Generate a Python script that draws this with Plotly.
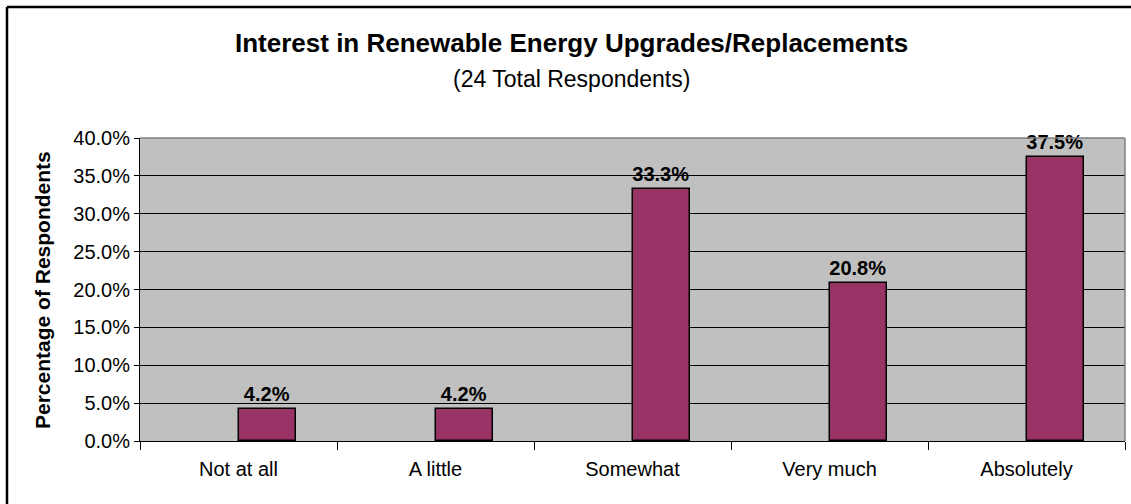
import plotly.graph_objects as go

categories = ["Not at all", "A little", "Somewhat", "Very much", "Absolutely"]
percent_values = [4.2, 4.2, 33.3, 20.8, 37.5]
y_tick_values = [0, 5, 10, 15, 20, 25, 30, 35, 40]
y_tick_labels = [f"{v:.1f}%" for v in y_tick_values]

FONT = "Liberation Sans, Arial, sans-serif"

fig = go.Figure()
fig.add_trace(go.Bar(
    x=categories,
    y=percent_values,
    width=0.29,
    offset=0.0,
    marker=dict(color="#993366", line=dict(color="#000000", width=1.5)),
    text=[f"{v:.1f}%" for v in percent_values],
    textposition="outside",
    textfont=dict(family=FONT, size=20, color="#000000", weight="bold"),
    cliponaxis=False,
    showlegend=False,
))

fig.update_layout(
    width=1131,
    height=504,
    margin=dict(l=140, r=6, t=138, b=63),
    paper_bgcolor="#FFFFFF",
    plot_bgcolor="#C0C0C0",
    font=dict(family=FONT, size=20, color="#000000"),
    bargap=0,
    xaxis=dict(
        type="category",
        tickson="boundaries",
        ticks="outside",
        ticklen=8,
        tickcolor="#000000",
        showline=True,
        linecolor="#000000",
        linewidth=1,
        showgrid=False,
        ticklabelstandoff=10,
        tickfont=dict(family=FONT, size=20),
        range=[-0.5, 4.5],
    ),
    yaxis=dict(
        range=[0, 40],
        tickvals=y_tick_values,
        ticktext=y_tick_labels,
        ticks="outside",
        ticklen=5,
        tickcolor="#000000",
        showline=True,
        linecolor="#000000",
        linewidth=1,
        showgrid=True,
        gridcolor="#000000",
        gridwidth=1,
        zeroline=False,
        tickfont=dict(family=FONT, size=20),
    ),
    annotations=[
        dict(text="<b>Interest in Renewable Energy Upgrades/Replacements</b>",
             x=571, y=43, xref="paper", yref="paper", showarrow=False,
             font=dict(family=FONT, size=26)),
        dict(text="(24 Total Respondents)",
             x=571, y=79, xref="paper", yref="paper", showarrow=False,
             font=dict(family=FONT, size=23)),
        dict(text="<b>Percentage of Respondents</b>",
             x=42, y=290, xref="paper", yref="paper", showarrow=False,
             textangle=-90, font=dict(family=FONT, size=21)),
    ],
)

# Convert annotation pixel positions to paper coordinates
W, H = 1131, 504
L, R, T, B = 140, 6, 138, 63
pw, ph = W - L - R, H - T - B
for ann in fig.layout.annotations:
    ann.x = (ann.x - L) / pw
    ann.y = 1 - (ann.y - T) / ph
    ann.xanchor = "center"
    ann.yanchor = "middle"

# Outer frame (left and top edges) and grey plot border (top and right)
fig.add_shape(type="line", xref="paper", yref="paper",
              x0=(7 - L) / pw, x1=(7 - L) / pw, y0=1 - (H + 5 - T) / ph, y1=1 - (7 - T) / ph,
              line=dict(color="#000000", width=2.5))
fig.add_shape(type="line", xref="paper", yref="paper",
              x0=(7 - L) / pw, x1=(W + 5 - L) / pw, y0=1 - (7 - T) / ph, y1=1 - (7 - T) / ph,
              line=dict(color="#000000", width=2.5))
fig.add_shape(type="line", xref="paper", yref="paper",
              x0=0, x1=1, y0=1, y1=1, line=dict(color="#808080", width=1.5))
fig.add_shape(type="line", xref="paper", yref="paper",
              x0=1, x1=1, y0=0, y1=1, line=dict(color="#808080", width=1.5))

fig.write_html("out.html")
